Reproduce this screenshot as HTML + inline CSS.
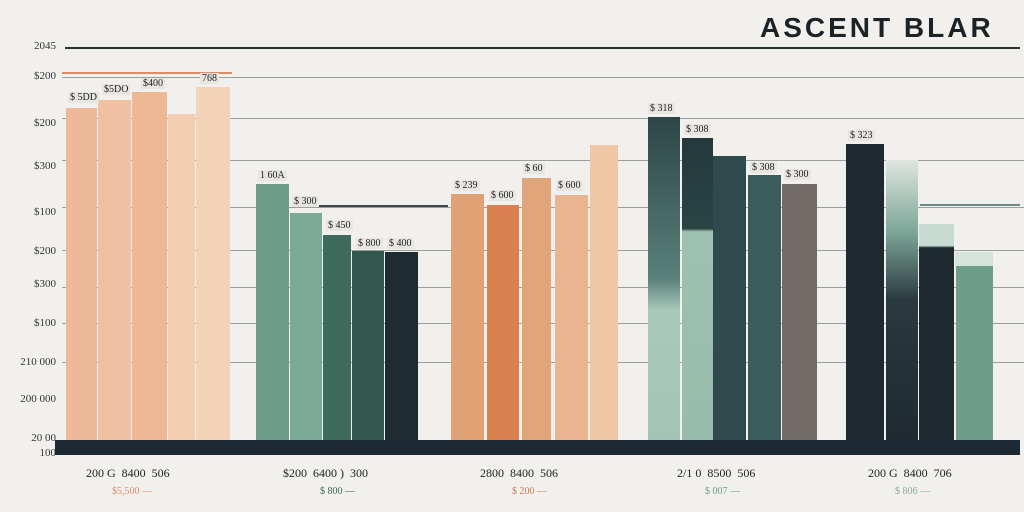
<!DOCTYPE html>
<html><head><meta charset="utf-8"><style>
body{margin:0;width:1024px;height:512px;overflow:hidden;background:#f1f0ec;font-family:"Liberation Sans",sans-serif;position:relative}
div{position:absolute}
.g{left:62px;right:0;height:1px;background:#9a9e9c}
.y{left:10px;width:46px;text-align:right;font-size:11px;color:#333;font-family:"Liberation Serif",serif}
.b{bottom:72px}
.l{font-size:10px;color:#222;font-family:"Liberation Serif",serif;background:#e8e6e0;padding:0 2px}
.x{font-size:12px;color:#222;font-family:"Liberation Serif",serif;top:466px}
.s{font-size:10px;top:486px}
</style></head><body>
<div style="left:760px;top:12px;font-size:28px;font-weight:bold;letter-spacing:3px;color:#1c2326">ASCENT BLAR</div>
<div style="left:65px;top:47px;width:955px;height:2px;background:#2a3336"></div>
<div class="g" style="top:77px"></div><div class="g" style="top:118px"></div><div class="g" style="top:160px"></div>
<div class="g" style="top:207px"></div><div class="g" style="top:250px"></div><div class="g" style="top:287px"></div>
<div class="g" style="top:323px"></div><div class="g" style="top:362px"></div>
<div class="y" style="top:40px">2045</div><div class="y" style="top:70px">$200</div><div class="y" style="top:117px">$200</div>
<div class="y" style="top:160px">$300</div><div class="y" style="top:206px">$100</div><div class="y" style="top:245px">$200</div>
<div class="y" style="top:278px">$300</div><div class="y" style="top:317px">$100</div><div class="y" style="top:356px">210 000</div>
<div class="y" style="top:393px">200 000</div><div class="y" style="top:432px">20 00</div><div class="y" style="top:447px">100</div>
<div style="left:62px;top:72px;width:170px;height:2px;background:#e08a68"></div>
<div class="b" style="left:66px;width:31px;top:108px;background:#eeb998"></div>
<div class="b" style="left:98px;width:33px;top:100px;background:#f0c0a2"></div>
<div class="b" style="left:132px;width:35px;top:92px;background:#eeb894"></div>
<div class="b" style="left:168px;width:27px;top:114px;background:#f3cdb1"></div>
<div class="b" style="left:196px;width:34px;top:87px;background:#f2d3b8"></div>
<div class="b" style="left:256px;width:33px;top:184px;background:#6e9e8a"></div>
<div class="b" style="left:290px;width:32px;top:213px;background:#7aab98"></div>
<div class="b" style="left:323px;width:28px;top:235px;background:#3f6b5f"></div>
<div class="b" style="left:352px;width:32px;top:251px;background:#33564f"></div>
<div class="b" style="left:385px;width:33px;top:252px;background:#1e2b30"></div>
<div class="b" style="left:451px;width:33px;top:194px;background:#e0a274"></div>
<div class="b" style="left:487px;width:32px;top:205px;background:#d9804f"></div>
<div class="b" style="left:522px;width:29px;top:178px;background:#e0a57b"></div>
<div class="b" style="left:555px;width:33px;top:195px;background:#eab490"></div>
<div class="b" style="left:590px;width:28px;top:145px;background:#f0c7a5"></div>
<div class="b" style="left:648px;width:32px;top:117px;background:linear-gradient(#2c4646 0,#5a807a 50%,#a9c9bb 60%,#a3c4b5 100%)"></div>
<div class="b" style="left:682px;width:31px;top:138px;background:linear-gradient(#23393b 0,#2a4444 30%,#9ec0b0 31%,#98bcab 100%)"></div>
<div class="b" style="left:713px;width:33px;top:156px;background:#2f4a4c"></div>
<div class="b" style="left:748px;width:33px;top:175px;background:#3a5c5b"></div>
<div class="b" style="left:782px;width:35px;top:184px;background:#706b64"></div>
<div class="b" style="left:846px;width:38px;top:144px;background:#1e2a30"></div>
<div class="b" style="left:886px;width:32px;top:160px;background:linear-gradient(#dfe5e0 0,#7fa89a 25%,#2a3a3e 50%,#1e2a30 100%)"></div>
<div class="b" style="left:919px;width:35px;top:224px;background:linear-gradient(#c8dbd2 0,#c8dbd2 10%,#1e2a30 11%)"></div>
<div class="b" style="left:956px;width:37px;top:266px;background:#6e9e8a"></div>
<div style="left:955px;top:252px;width:38px;height:14px;background:#d6e2dc"></div>
<div style="left:920px;top:204px;width:100px;height:2px;background:#6a8a86"></div>
<div style="left:300px;top:205px;width:148px;height:2px;background:#3a4a4c"></div>
<div style="left:55px;top:440px;width:965px;height:15px;background:#1e2a33"></div>
<div class="l" style="left:68px;top:92px">$ 5DD</div><div class="l" style="left:102px;top:84px">$5DO</div>
<div class="l" style="left:141px;top:78px">$400</div><div class="l" style="left:200px;top:73px">768</div>
<div class="l" style="left:258px;top:170px">1 60A</div><div class="l" style="left:292px;top:196px">$ 300</div>
<div class="l" style="left:326px;top:220px">$ 450</div><div class="l" style="left:356px;top:238px">$ 800</div><div class="l" style="left:387px;top:238px">$ 400</div>
<div class="l" style="left:453px;top:180px">$ 239</div><div class="l" style="left:489px;top:190px">$ 600</div>
<div class="l" style="left:523px;top:163px">$ 60</div><div class="l" style="left:556px;top:180px">$ 600</div>
<div class="l" style="left:648px;top:103px">$ 318</div><div class="l" style="left:684px;top:124px">$ 308</div>
<div class="l" style="left:750px;top:162px">$ 308</div><div class="l" style="left:784px;top:169px">$ 300</div>
<div class="l" style="left:848px;top:130px">$ 323</div>
<div class="x" style="left:86px">200 G &nbsp;8400 &nbsp;506</div>
<div class="x" style="left:283px">$200 &nbsp;6400 ) &nbsp;300</div>
<div class="x" style="left:480px">2800 &nbsp;8400 &nbsp;506</div>
<div class="x" style="left:677px">2/1 0 &nbsp;8500 &nbsp;506</div>
<div class="x" style="left:868px">200 G &nbsp;8400 &nbsp;706</div>
<div class="x s" style="left:112px;color:#e08a68">$5,500 —</div>
<div class="x s" style="left:320px;color:#3a6a5c">$ 800 —</div>
<div class="x s" style="left:512px;color:#c87a50">$ 200 —</div>
<div class="x s" style="left:705px;color:#6a9e8a">$ 007 —</div>
<div class="x s" style="left:895px;color:#8aa8a0">$ 806 —</div>
</body></html>
